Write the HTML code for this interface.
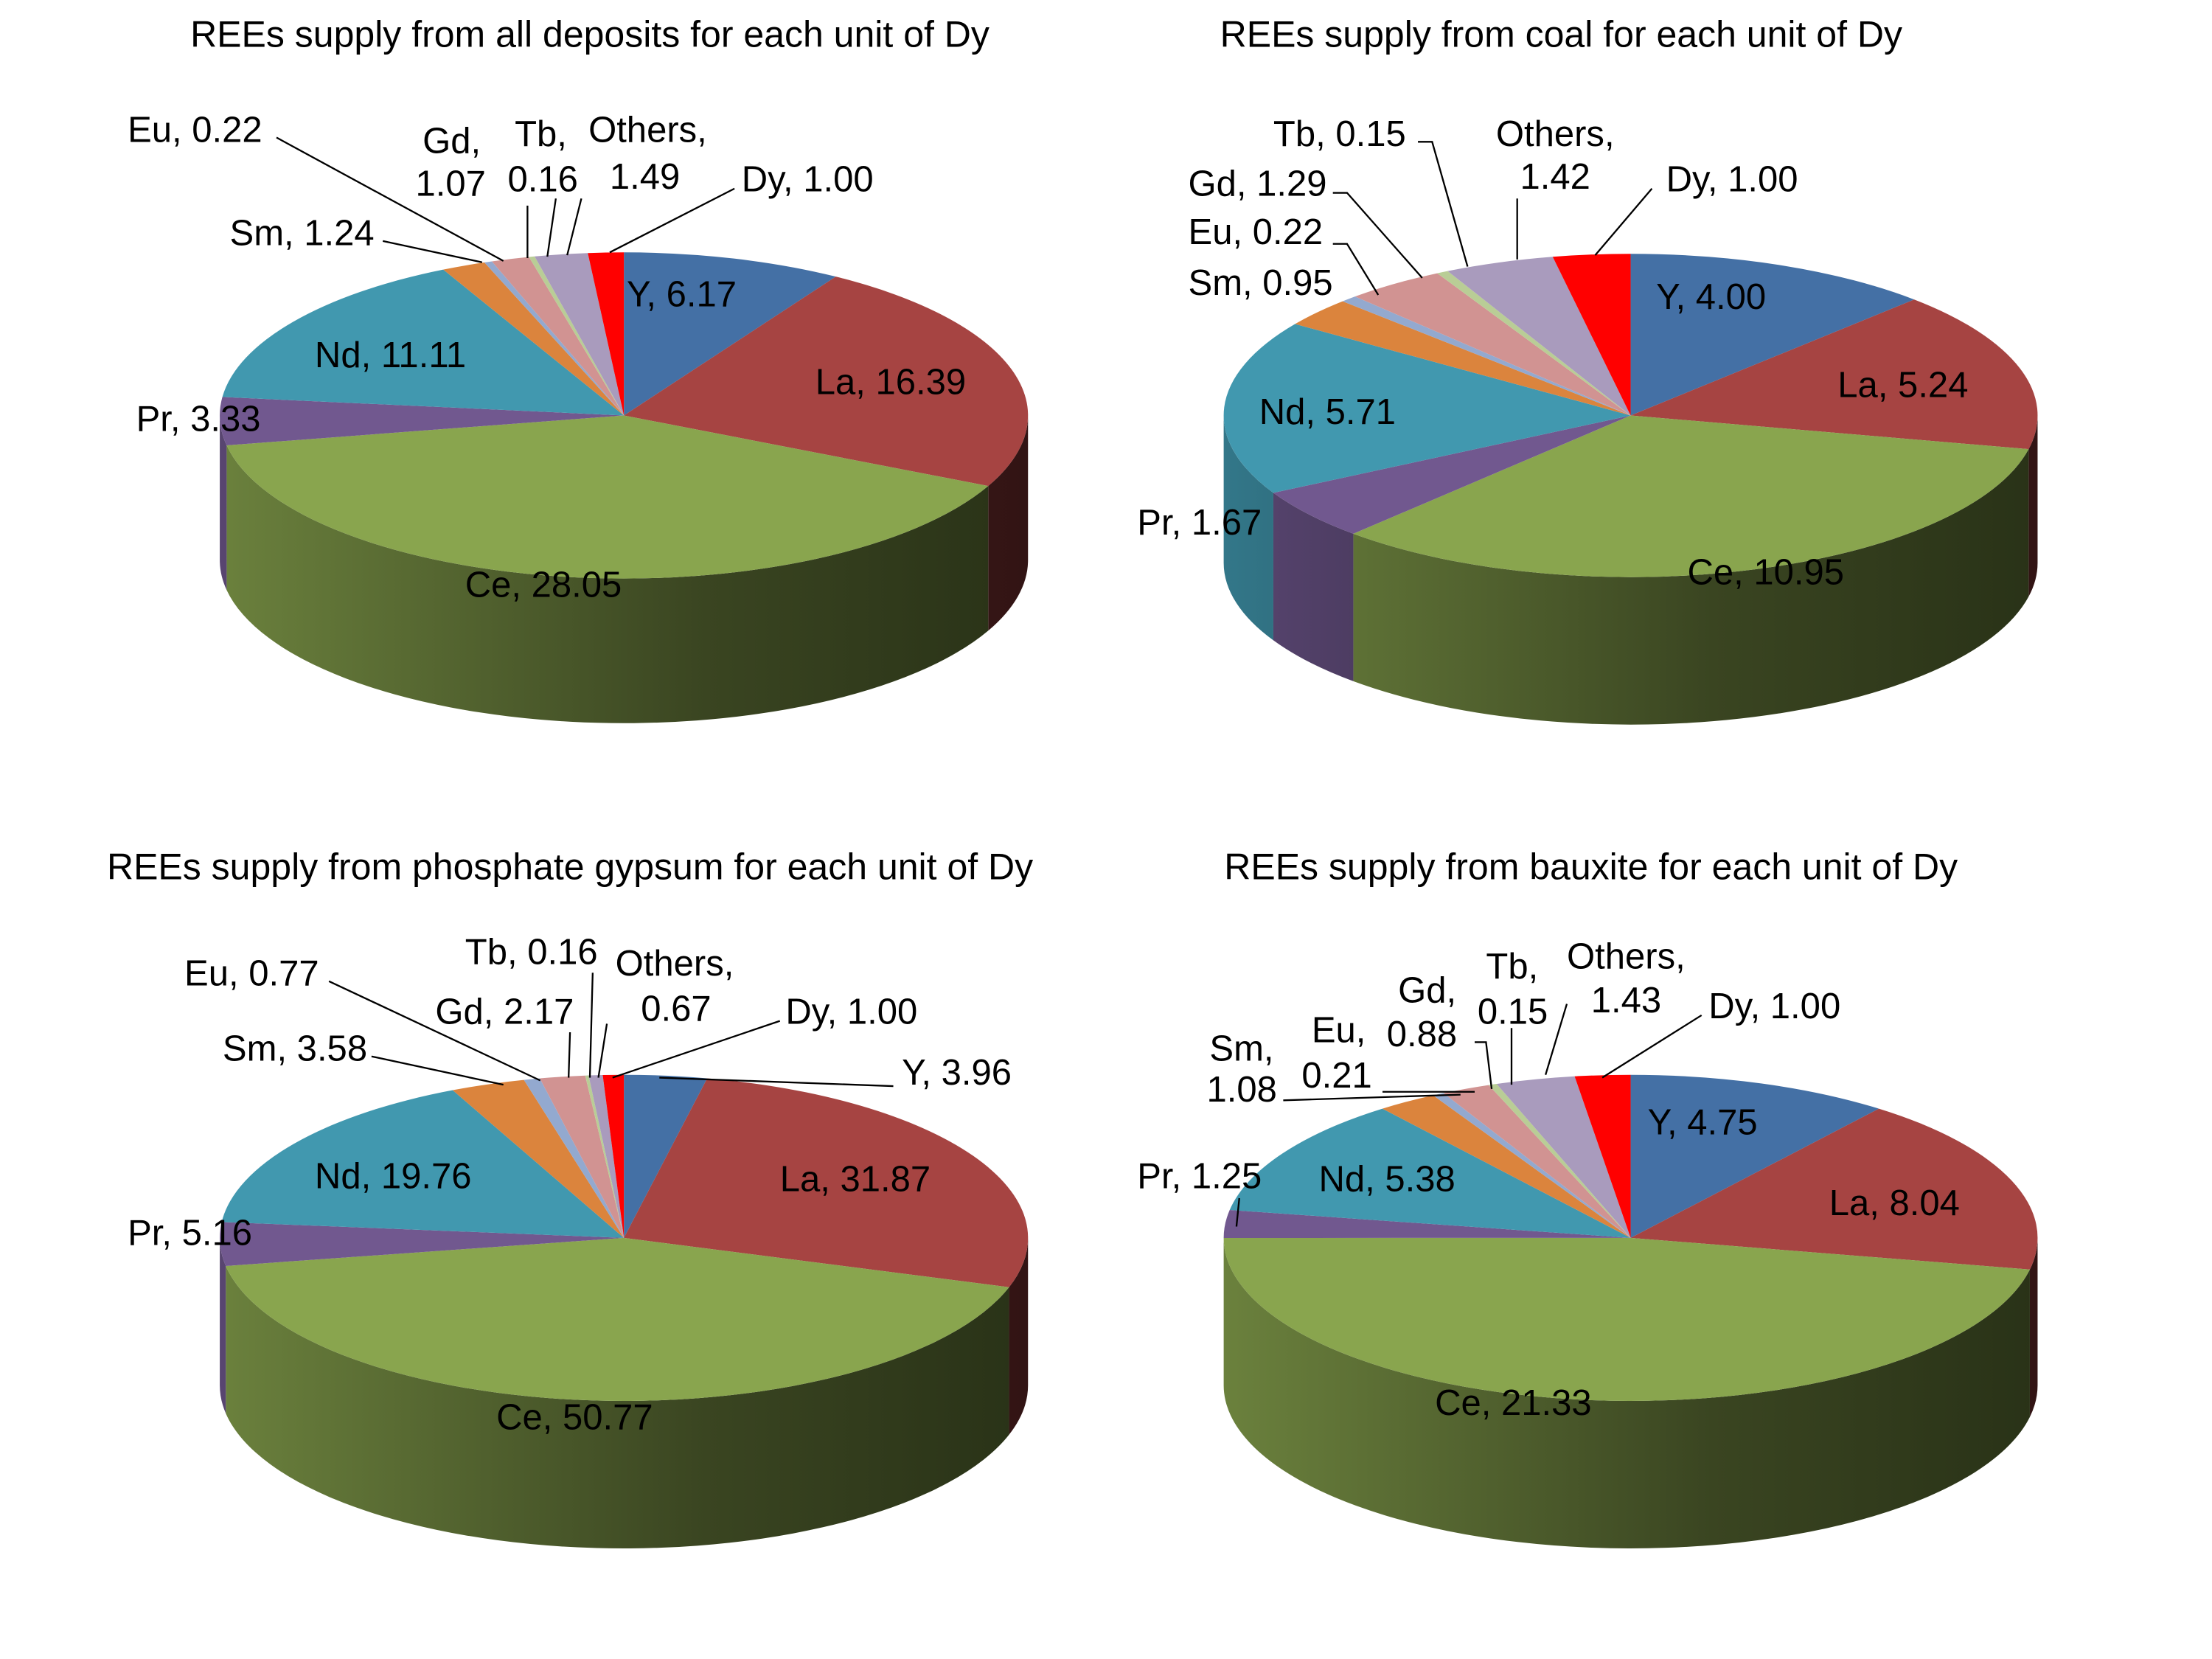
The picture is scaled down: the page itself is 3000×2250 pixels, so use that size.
<!DOCTYPE html>
<html><head><meta charset="utf-8"><style>
html,body{margin:0;padding:0;background:#fff;}
svg{display:block;font-family:"Liberation Sans",Arial,sans-serif;}
</style></head><body>
<svg id="chart" width="3000" height="2250" viewBox="0 0 1560 1170" xmlns="http://www.w3.org/2000/svg">
<defs id="defs"></defs>
<rect width="1560" height="1170" fill="#fff"/>
</svg>
<script>
const categories = ["Y","La","Ce","Pr","Nd","Sm","Eu","Gd","Tb","Others","Dy"];
const allDeposits = [6.17,16.39,28.05,3.33,11.11,1.24,0.22,1.07,0.16,1.49,1.00];
const coal = [4.00,5.24,10.95,1.67,5.71,0.95,0.22,1.29,0.15,1.42,1.00];
const phosphateGypsum = [3.96,31.87,50.77,5.16,19.76,3.58,0.77,2.17,0.16,0.67,1.00];
const bauxite = [4.75,8.04,21.33,1.25,5.38,1.08,0.21,0.88,0.15,1.43,1.00];
const titles = ["REEs supply from all deposits for each unit of Dy","REEs supply from coal for each unit of Dy","REEs supply from phosphate gypsum for each unit of Dy","REEs supply from bauxite for each unit of Dy"];
const colors = ["#4470A5","#A64442","#89A54E","#71588F","#4198AF","#DB843D","#93A9CF","#D19392","#B9CD96","#A99BBD","#FF0000"];

const NS="http://www.w3.org/2000/svg";
const svg=document.getElementById('chart');
const defs=document.getElementById('defs');
function mk(tag,attrs,parent){const e=document.createElementNS(NS,tag);for(const k in attrs)e.setAttribute(k,attrs[k]);(parent||svg).appendChild(e);return e;}
function shade(hex,f){const n=parseInt(hex.slice(1),16);const r=(n>>16)&255,g=(n>>8)&255,b=n&255;return `rgb(${Math.round(r*f)},${Math.round(g*f)},${Math.round(b*f)})`;}

const layouts=[
 {cx:440,cy:293,rx:285,ry:115,d:102,tx:416,ty:33},
 {cx:1150,cy:293,rx:287,ry:114,d:104,tx:1101,ty:33},
 {cx:440,cy:873,rx:285,ry:115,d:104,tx:402,ty:620},
 {cx:1150,cy:873,rx:287,ry:115,d:104,tx:1122,ty:620}
];
const labelPos=[
 {Y:[[442,216]],La:[[575,278]],Ce:[[328,421]],Pr:[[96,304]],Nd:[[222,259]],Sm:[[162,173]],Eu:[[90,100]],Gd:[[298,108],[293,138]],Tb:[[363,103],[358,135]],Others:[[415,100],[430,133]],Dy:[[523,135]]},
 {Y:[[1168,218]],La:[[1296,280]],Ce:[[1190,412]],Pr:[[802,377]],Nd:[[888,299]],Sm:[[838,208]],Eu:[[838,172]],Gd:[[838,138]],Tb:[[898,103]],Others:[[1055,103],[1072,133]],Dy:[[1175,135]]},
 {Y:[[636,765]],La:[[550,840]],Ce:[[350,1008]],Pr:[[90,878]],Nd:[[222,838]],Sm:[[157,748]],Eu:[[130,695]],Gd:[[307,722]],Tb:[[328,680]],Others:[[434,688],[452,720]],Dy:[[554,722]]},
 {Y:[[1162,800]],La:[[1290,857]],Ce:[[1012,998]],Pr:[[802,838]],Nd:[[930,840]],Sm:[[853,748],[851,777]],Eu:[[925,735],[918,767]],Gd:[[986,707],[978,738]],Tb:[[1048,690],[1042,722]],Others:[[1105,683],[1122,714]],Dy:[[1205,718]]}
];
const leaders=[
 [[[195,97],[355,184]],[[270,170],[340,185]],[[372,145],[372,182]],[[392,140],[386,181]],[[410,140],[400,180]],[[518,133],[430,178]]],
 [[[1000,100],[1010,100],[1035,188]],[[1070,140],[1070,183]],[[1165,133],[1125,180]],[[940,136],[950,136],[1003,196]],[[940,172],[950,172],[972,208]]],
 [[[232,692],[381,762]],[[262,745],[355,765]],[[402,728],[401,760]],[[418,686],[416,760]],[[428,722],[422,760]],[[550,720],[432,760]],[[630,766],[465,760]]],
 [[[905,776],[1030,772]],[[975,770],[1040,770]],[[1040,735],[1048,735],[1052,768]],[[1066,725],[1066,765]],[[1105,708],[1090,758]],[[1200,716],[1130,760]],[[874,845],[872,865]]]
];
const datasets=[allDeposits,coal,phosphateGypsum,bauxite];
const names=["all-deposits","coal","phosphate-gypsum","bauxite"];

function pt(L,a,dy){return [L.cx+L.rx*Math.sin(a), L.cy-L.ry*Math.cos(a)+(dy||0)];}

datasets.forEach((vals,ci)=>{
 const L=layouts[ci];
 const g=mk('g',{});
 
 
 const t=mk('text',{x:L.tx,y:L.ty,'text-anchor':'middle','font-size':26,fill:'#000'},g);
 t.textContent=titles[ci];
 
 
 const total=vals.reduce((a,b)=>a+b,0);
 let acc=0;const angs=vals.map(v=>{const s=acc/total*2*Math.PI;acc+=v;return [s,acc/total*2*Math.PI];});
 vals.forEach((v,i)=>{
  const [s,e]=angs[i];
  const a0=Math.max(s,Math.PI/2),a1=Math.min(e,3*Math.PI/2);
  if(a1<=a0)return;
  const gid='sg'+ci+'_'+i;
  const lg=mk('linearGradient',{id:gid,gradientUnits:'userSpaceOnUse',x1:L.cx-L.rx,y1:0,x2:L.cx+L.rx,y2:0},defs);
  mk('stop',{offset:0,'stop-color':shade(colors[i],0.78)},lg);
  mk('stop',{offset:0.6,'stop-color':shade(colors[i],0.42)},lg);
  mk('stop',{offset:1,'stop-color':shade(colors[i],0.3)},lg);
  const p0=pt(L,a0),p1=pt(L,a1),q1=pt(L,a1,L.d),q0=pt(L,a0,L.d);
  const large=(a1-a0)>Math.PI?1:0;
  const d=`M${p0}A${L.rx},${L.ry} 0 ${large} 1 ${p1}L${q1}A${L.rx},${L.ry} 0 ${large} 0 ${q0}Z`;
  const p=mk('path',{d:d,fill:`url(#${gid})`},g);
  
  
 });
 vals.forEach((v,i)=>{
  const [s,e]=angs[i];
  const p0=pt(L,s),p1=pt(L,e);
  const large=(e-s)>Math.PI?1:0;
  const p=mk('path',{d:`M${L.cx},${L.cy}L${p0}A${L.rx},${L.ry} 0 ${large} 1 ${p1}Z`,fill:colors[i]},g);
  
  
 });
 leaders[ci].forEach(pts=>{
  const l=mk('polyline',{points:pts.map(p=>p.join(',')).join(' '),fill:'none',stroke:'#000','stroke-width':1.2},g);
  
  
 });
 categories.forEach((c,i)=>{
  const pos=labelPos[ci][c];
  const txt=c+', '+vals[i].toFixed(2);
  const lines=pos.length>1?[c+',',vals[i].toFixed(2)]:[txt];
  const tg=mk('text',{'font-size':25.5,fill:'#000'},g);
  
  
  lines.forEach((ln,k)=>{const ts=mk('tspan',{x:pos[k][0],y:pos[k][1]},tg);ts.textContent=ln;});
 });
});
</script>
</body></html>
